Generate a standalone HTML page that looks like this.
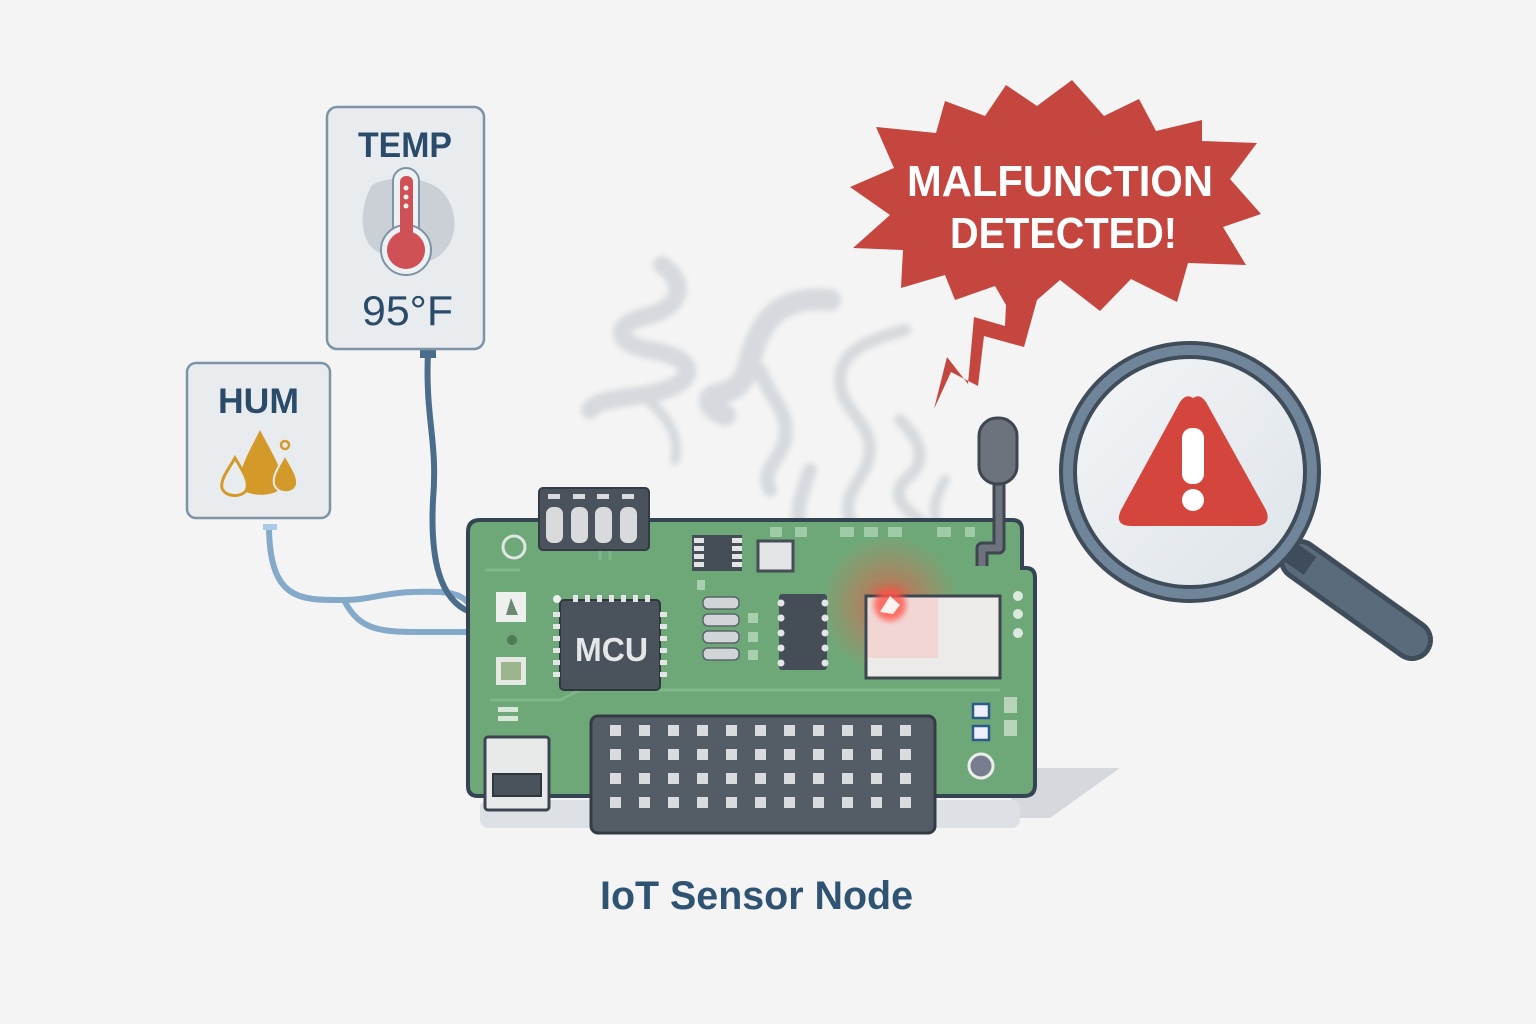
<!DOCTYPE html>
<html><head><meta charset="utf-8"><style>
html,body{margin:0;padding:0;background:#f4f4f4;}
svg{display:block;}
text{font-family:"Liberation Sans","DejaVu Sans",sans-serif;font-weight:bold;}
</style></head><body>
<svg width="1536" height="1024" viewBox="0 0 1536 1024" xmlns="http://www.w3.org/2000/svg">
<defs>
<filter id="blur3"><feGaussianBlur stdDeviation="3"/></filter>
<radialGradient id="glow" cx="0.5" cy="0.5" r="0.5">
<stop offset="0" stop-color="#ff3a2a" stop-opacity="0.9"/>
<stop offset="0.4" stop-color="#ff5040" stop-opacity="0.4"/>
<stop offset="1" stop-color="#ff6050" stop-opacity="0"/>
</radialGradient>
<linearGradient id="lens" x1="0" y1="0" x2="1" y2="1">
<stop offset="0" stop-color="#f4f6f8"/><stop offset="1" stop-color="#dde3e8"/>
</linearGradient>
</defs>
<rect width="1536" height="1024" fill="#f4f4f4"/>

<path d="M1030 768 L1120 768 L1050 818 L1000 818 Z" fill="#d5d9de"/>
<rect x="480" y="800" width="540" height="28" fill="#dde0e4" rx="8"/>

<!-- smoke -->
<g fill="none" stroke="#d3d7db" stroke-linecap="round" filter="url(#blur3)" opacity="0.9">
<path d="M662 265 C690 285 680 310 640 318 C610 328 620 345 650 350 C690 356 700 375 670 388 C640 400 600 395 590 410" stroke-width="18"/>
<path d="M650 402 C670 420 680 440 675 460" stroke-width="10"/>
<path d="M830 300 C780 295 760 320 750 360 C745 380 740 390 715 395 C705 398 710 410 725 415" stroke-width="22"/>
<path d="M760 370 C770 400 790 410 785 440 C780 460 760 470 770 490" stroke-width="14"/>
<path d="M905 330 C870 340 840 350 840 380 C840 410 870 420 870 450 C868 480 840 490 850 520" stroke-width="12"/>
<path d="M810 470 C800 500 790 520 810 540 C830 560 850 560 850 600" stroke-width="14"/>
<path d="M900 420 C920 440 930 460 905 480 C890 495 905 510 920 520" stroke-width="12"/>
<path d="M945 480 C935 500 930 510 940 530" stroke-width="10"/>
</g>

<!-- starburst -->
<path fill="#c4463f" d="M876 127 L936 133 L945 101 L985 116 L1006 85 L1037 106 L1072 80 L1104 116 L1139 99 L1156 131 L1202 120 L1202 141 L1257 143 L1230 179 L1261 214 L1223 227 L1246 265 L1188 263 L1177 302 L1131 279 L1100 311 L1060 280 L1037 300 L1024 347 L984 336 L978 386 L951 372 L934 409 L947 357 L968 384 L974 317 L1005 326 L1006 305 L995 286 L955 300 L945 275 L901 288 L903 250 L853 248 L890 215 L850 187 L894 168 Z"/>
<text x="907" y="196" font-size="44" fill="#fff" textLength="306" lengthAdjust="spacingAndGlyphs">MALFUNCTION</text>
<text x="950" y="248" font-size="44" fill="#fff" textLength="227" lengthAdjust="spacingAndGlyphs">DETECTED!</text>

<!-- magnifier -->
<line x1="1300" y1="560" x2="1412" y2="640" stroke="#3f4d5b" stroke-width="42" stroke-linecap="round"/>
<line x1="1300" y1="560" x2="1412" y2="640" stroke="#5a6b7c" stroke-width="32" stroke-linecap="round"/>
<line x1="1280" y1="545" x2="1310" y2="566" stroke="#3f4d5b" stroke-width="22"/>
<circle cx="1190" cy="472" r="122" fill="url(#lens)" stroke="#3f4d5b" stroke-width="18"/>
<circle cx="1190" cy="472" r="122" fill="none" stroke="#71859a" stroke-width="10"/>
<path d="M1193 398 Q1200 393 1206 402 L1266 510 Q1272 525 1256 526 L1130 526 Q1114 525 1121 510 L1180 402 Q1186 393 1193 398 Z" fill="#d4463d"/>
<rect x="1182" y="428" width="22" height="56" rx="10" fill="#fff"/>
<circle cx="1193" cy="500" r="11" fill="#fff"/>

<!-- cables -->
<path d="M269 528 C270 600 300 600 340 600 C380 600 380 590 440 592 C460 593 466 600 470 605" fill="none" stroke="#84a9c9" stroke-width="6"/>
<path d="M345 602 C360 630 380 632 420 632 L470 632" fill="none" stroke="#84a9c9" stroke-width="6"/>
<path d="M428 352 C425 420 438 440 433 500 C430 560 440 600 470 612" fill="none" stroke="#4a6d8c" stroke-width="6"/>
<rect x="420" y="350" width="16" height="8" fill="#4a6d8c"/>
<rect x="263" y="524" width="14" height="6" fill="#a9cbe6"/>

<!-- TEMP card -->
<rect x="327" y="107" width="157" height="242" rx="10" fill="#e9ecee" stroke="#7d93a6" stroke-width="2.5"/>
<text x="358" y="157" font-size="35" fill="#2a4b69" textLength="94" lengthAdjust="spacingAndGlyphs">TEMP</text>
<path d="M372 185 C390 175 430 175 445 195 C460 215 455 240 445 250 C430 270 395 265 375 250 C358 238 360 205 372 185 Z" fill="#c3c9cf" opacity="0.8"/>
<rect x="393" y="168" width="26" height="82" rx="13" fill="#eef1f3" stroke="#7d93a6" stroke-width="2"/>
<circle cx="406" cy="250" r="25" fill="#eef1f3" stroke="#7d93a6" stroke-width="2"/>
<rect x="400" y="176" width="13" height="75" rx="6" fill="#cf5055"/>
<circle cx="406" cy="250" r="19" fill="#cf5055"/>
<circle cx="406" cy="188" r="2.5" fill="#eee"/><circle cx="406" cy="197" r="2.5" fill="#eee"/><circle cx="406" cy="206" r="2.5" fill="#eee"/>
<text x="362" y="325" font-size="42" fill="#2a4b69" textLength="91" lengthAdjust="spacingAndGlyphs" style="font-weight:normal">95°F</text>

<!-- HUM card -->
<rect x="187" y="363" width="143" height="155" rx="9" fill="#e9ecee" stroke="#7d93a6" stroke-width="2.5"/>
<text x="218" y="413" font-size="35" fill="#2a4b69" textLength="81" lengthAdjust="spacingAndGlyphs">HUM</text>
<path d="M260 430 C250 450 238 470 240 485 C242 498 280 498 282 485 C284 470 270 450 260 430 Z" fill="#d39a2a"/>
<path d="M235 458 C228 470 220 480 222 488 C225 498 245 498 247 488 C249 480 242 470 235 458 Z" fill="#e9ecee" stroke="#d39a2a" stroke-width="3"/>
<path d="M285 455 C280 465 272 475 274 484 C277 495 295 495 297 484 C298 475 290 465 285 455 Z" fill="#d39a2a" stroke="#e9ecee" stroke-width="2"/>
<circle cx="285" cy="445" r="4" fill="none" stroke="#d39a2a" stroke-width="2.5"/>

<!-- board -->
<path d="M480 520 L1012 520 Q1022 520 1022 530 L1022 568 L1026 568 Q1035 568 1035 578 L1035 785 Q1035 796 1024 796 L478 796 Q468 796 468 786 L468 532 Q468 520 480 520 Z" fill="#6ea878" stroke="#344450" stroke-width="4"/>
<path d="M485 570 L520 570 M490 700 L560 700 L580 690 L1000 690 M600 560 L600 490 M610 560 L610 490" stroke="#7fb68a" stroke-width="3" fill="none"/>
<circle cx="890" cy="605" r="70" fill="url(#glow)"/>
<rect x="539" y="488" width="110" height="62" rx="4" fill="#4a525c" stroke="#343b44" stroke-width="2"/>
<g fill="#d8dadc"><rect x="546" y="507" width="17" height="36" rx="7"/><rect x="571" y="507" width="17" height="36" rx="7"/><rect x="595" y="507" width="17" height="36" rx="7"/><rect x="620" y="507" width="17" height="36" rx="7"/>
<rect x="548" y="494" width="12" height="5"/><rect x="573" y="494" width="12" height="5"/><rect x="597" y="494" width="12" height="5"/><rect x="622" y="494" width="12" height="5"/></g>
<circle cx="514" cy="547" r="11" fill="none" stroke="#dfe7e0" stroke-width="3"/>
<g fill="#9fcba6"><rect x="770" y="527" width="12" height="10"/><rect x="795" y="527" width="12" height="10"/><rect x="840" y="527" width="14" height="10"/><rect x="864" y="527" width="14" height="10"/><rect x="888" y="527" width="14" height="10"/><rect x="937" y="527" width="14" height="10"/><rect x="965" y="527" width="10" height="10"/></g>
<rect x="692" y="535" width="50" height="36" fill="#454d57"/>
<g fill="#e2e4e6"><rect x="694" y="538" width="10" height="5"/><rect x="694" y="546" width="10" height="5"/><rect x="694" y="554" width="10" height="5"/><rect x="694" y="562" width="10" height="5"/><rect x="732" y="538" width="10" height="5"/><rect x="732" y="546" width="10" height="5"/><rect x="732" y="554" width="10" height="5"/><rect x="732" y="562" width="10" height="5"/></g>
<rect x="758" y="541" width="35" height="30" fill="#e3e5e7" stroke="#454d57" stroke-width="3"/>
<rect x="496" y="592" width="30" height="30" fill="#eef0ee"/><path d="M506 615 L511 598 L518 615 Z" fill="#6a8a72"/>
<circle cx="512" cy="640" r="5" fill="#4e7a58"/>
<rect x="496" y="657" width="30" height="28" fill="#e5e8e3"/><rect x="501" y="662" width="20" height="18" fill="#9cb58f"/>
<rect x="498" y="707" width="20" height="5" fill="#d9e6da"/><rect x="498" y="716" width="20" height="5" fill="#d9e6da"/>
<rect x="560" y="600" width="100" height="90" rx="4" fill="#4a525c" stroke="#2f363e" stroke-width="2"/>
<g fill="#e3e5e7">
<rect x="573" y="595" width="5" height="7"/><rect x="585" y="595" width="5" height="7"/><rect x="597" y="595" width="5" height="7"/><rect x="609" y="595" width="5" height="7"/><rect x="621" y="595" width="5" height="7"/><rect x="633" y="595" width="5" height="7"/><rect x="645" y="595" width="5" height="7"/>
<rect x="553" y="612" width="7" height="5"/><rect x="553" y="624" width="7" height="5"/><rect x="553" y="636" width="7" height="5"/><rect x="553" y="648" width="7" height="5"/><rect x="553" y="660" width="7" height="5"/><rect x="553" y="672" width="7" height="5"/>
<rect x="660" y="612" width="7" height="5"/><rect x="660" y="624" width="7" height="5"/><rect x="660" y="636" width="7" height="5"/><rect x="660" y="648" width="7" height="5"/><rect x="660" y="660" width="7" height="5"/><rect x="660" y="672" width="7" height="5"/>
</g>
<circle cx="557" cy="599" r="4" fill="#eee"/>
<text x="575" y="661" font-size="33" fill="#e4e6e8" textLength="73" lengthAdjust="spacingAndGlyphs">MCU</text>
<g fill="#d2d5d8" stroke="#5b646d" stroke-width="1.5"><rect x="703" y="597" width="36" height="12" rx="5"/><rect x="703" y="614" width="36" height="12" rx="5"/><rect x="703" y="631" width="36" height="12" rx="5"/><rect x="703" y="648" width="36" height="12" rx="5"/></g>
<g fill="#a9d0ae"><rect x="748" y="613" width="10" height="10"/><rect x="748" y="632" width="10" height="10"/><rect x="748" y="650" width="10" height="10"/><rect x="697" y="580" width="8" height="10"/></g>
<rect x="779" y="594" width="48" height="76" rx="3" fill="#454d57"/>
<g fill="#e3e5e7"><circle cx="781" cy="603" r="3.5"/><circle cx="781" cy="618" r="3.5"/><circle cx="781" cy="633" r="3.5"/><circle cx="781" cy="648" r="3.5"/><circle cx="781" cy="663" r="3.5"/><circle cx="825" cy="603" r="3.5"/><circle cx="825" cy="618" r="3.5"/><circle cx="825" cy="633" r="3.5"/><circle cx="825" cy="648" r="3.5"/><circle cx="825" cy="663" r="3.5"/></g>
<rect x="866" y="596" width="134" height="82" fill="#ecebea" stroke="#3d4650" stroke-width="3"/>
<rect x="868" y="598" width="70" height="60" fill="#f5c8c4" opacity="0.6"/>
<circle cx="890" cy="605" r="16" fill="#ff5548" opacity="0.8" filter="url(#blur3)"/>
<path d="M880 612 L890 596 L900 605 L893 614 Z" fill="#fff3ef"/>
<g fill="#dce9dd"><circle cx="1018" cy="596" r="5"/><circle cx="1018" cy="614" r="5"/><circle cx="1018" cy="633" r="5"/></g>
<g fill="#b7d3ba"><rect x="1004" y="697" width="13" height="16"/><rect x="1004" y="720" width="13" height="16"/></g>
<rect x="973" y="704" width="16" height="14" fill="#eef" stroke="#2c5b8a" stroke-width="2.5"/>
<rect x="973" y="726" width="16" height="14" fill="#eef" stroke="#2c5b8a" stroke-width="2.5"/>
<circle cx="981" cy="766" r="12" fill="#767d8f" stroke="#eceeea" stroke-width="3"/>
<path d="M999 478 L999 548 L982 548 L982 566" fill="none" stroke="#3f464f" stroke-width="13" stroke-linejoin="round"/>
<path d="M999 478 L999 548 L982 548 L982 566" fill="none" stroke="#6c737c" stroke-width="7" stroke-linejoin="round"/>
<rect x="979" y="418" width="38" height="66" rx="18" fill="#6c737c" stroke="#3f464f" stroke-width="3"/>
<rect x="485" y="737" width="64" height="73" rx="3" fill="#e8e9e9" stroke="#3d4650" stroke-width="3"/>
<rect x="493" y="774" width="48" height="22" fill="#4a525c" stroke="#2f363e" stroke-width="2"/>
<rect x="591" y="716" width="344" height="117" rx="7" fill="#545c66" stroke="#343b44" stroke-width="3"/>
<g fill="#d9dbdd" id="row">
<rect x="610" y="725" width="11" height="11"/><rect x="639" y="725" width="11" height="11"/><rect x="668" y="725" width="11" height="11"/><rect x="697" y="725" width="11" height="11"/><rect x="726" y="725" width="11" height="11"/><rect x="755" y="725" width="11" height="11"/><rect x="784" y="725" width="11" height="11"/><rect x="813" y="725" width="11" height="11"/><rect x="842" y="725" width="11" height="11"/><rect x="871" y="725" width="11" height="11"/><rect x="900" y="725" width="11" height="11"/>
</g>
<use href="#row" y="24"/><use href="#row" y="48"/><use href="#row" y="72"/>

<text x="600" y="909" font-size="40" fill="#2f5473" textLength="313" lengthAdjust="spacingAndGlyphs">IoT Sensor Node</text>
</svg>
</body></html>
